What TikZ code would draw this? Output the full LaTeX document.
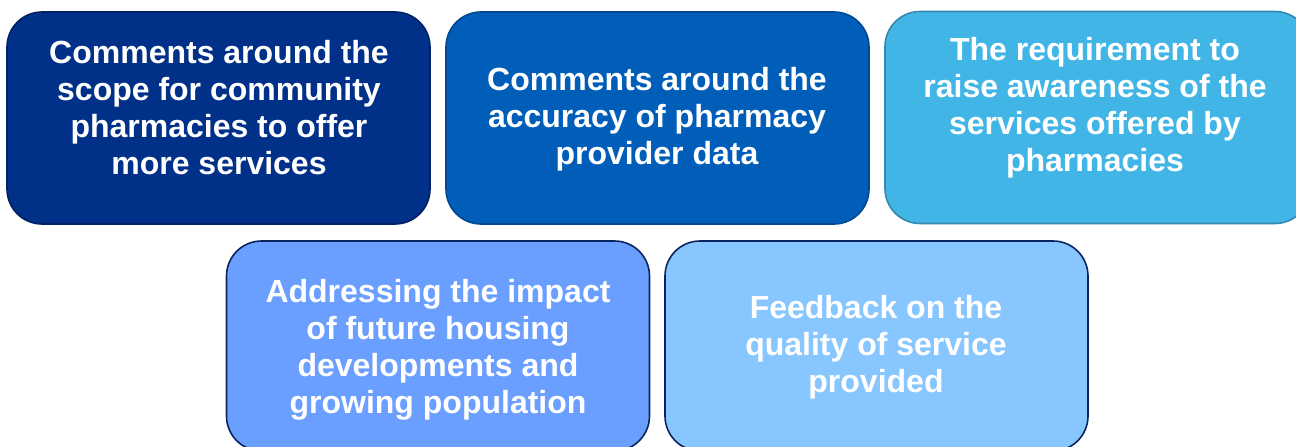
\documentclass[tikz,border=0pt]{standalone}
\usepackage{fontspec}
\setmainfont{Liberation Sans}
\definecolor{fillA}{RGB}{0,48,135}
\definecolor{lineA}{RGB}{0,34,100}
\definecolor{fillB}{RGB}{0,94,184}
\definecolor{lineB}{RGB}{0,72,145}
\definecolor{fillC}{RGB}{65,182,230}
\definecolor{lineC}{RGB}{55,135,175}
\definecolor{fillD}{RGB}{106,158,255}
\definecolor{fillE}{RGB}{136,198,255}
\definecolor{lineD}{RGB}{10,36,95}
\begin{document}
\begin{tikzpicture}[x=1pt,y=-1pt,
  card/.style={draw, line width=1.6pt, rounded corners=35pt, minimum width=423pt, minimum height=212pt, inner sep=0pt},
  cardtext/.style={text=white, font=\bfseries\fontsize{32pt}{37pt}\selectfont, align=center, inner sep=0pt}]
\useasboundingbox (0,0) rectangle (1296,447);
\begin{scope}
\clip (0,0) rectangle (1296,447);
\node[card, fill=fillA, draw=lineA] (b1) at (218.5,118) {};
\node[card, fill=fillB, draw=lineB] (b2) at (657.5,118) {};
\node[card, fill=fillC, draw=lineC, minimum width=425pt] (b3) at (1097.5,117.5) {};
\node[card, fill=fillD, draw=lineD, minimum height=210pt] (b4) at (438,346) {};
\node[card, fill=fillE, draw=lineD, minimum height=210pt] (b5) at (876.5,346) {};
\end{scope}
\node[cardtext] (t1) at (219,107.5) {Comments around the\\scope for community\\pharmacies to offer\\more services};
\node[cardtext] (t2) at (657,119) {Comments around the\\accuracy of pharmacy\\provider data};
\node[cardtext] (t3) at (1095,107.5) {The requirement to\\raise awareness of the\\services offered by\\pharmacies};
\node[cardtext] (t4) at (438,349.5) {Addressing the impact\\of future housing\\developments and\\growing population};
\node[cardtext] (t5) at (876,347) {Feedback on the\\quality of service\\provided};
\end{tikzpicture}
\end{document}
